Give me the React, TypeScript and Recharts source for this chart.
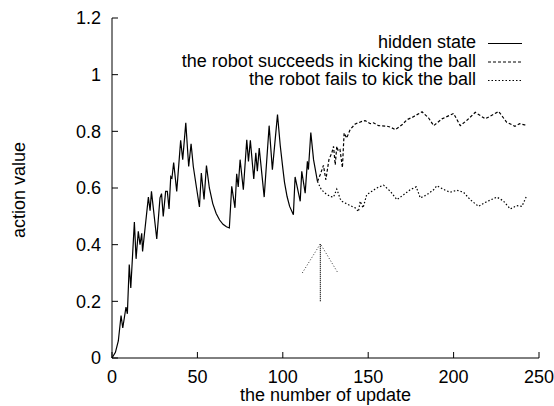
import React from 'react';
import { LineChart, Line, XAxis, YAxis, Legend } from 'recharts';

// hidden state (update index, action value)
const hiddenState = [
  { x: 0, y: 0 }, { x: 2, y: 0.02 }, { x: 3.7, y: 0.06 }, { x: 5.3, y: 0.15 }, { x: 6.3, y: 0.106 },
  { x: 8.2, y: 0.18 }, { x: 9, y: 0.156 }, { x: 10.1, y: 0.33 }, { x: 11, y: 0.247 }, { x: 13.1, y: 0.48 },
  { x: 14.1, y: 0.35 }, { x: 15.4, y: 0.447 }, { x: 16.4, y: 0.4 }, { x: 17.4, y: 0.44 }, { x: 17.9, y: 0.376 },
  { x: 21.3, y: 0.568 }, { x: 22.3, y: 0.52 }, { x: 23.1, y: 0.588 }, { x: 26.2, y: 0.42 }, { x: 28.1, y: 0.565 },
  { x: 29, y: 0.58 }, { x: 30, y: 0.5 }, { x: 31.4, y: 0.588 }, { x: 32.4, y: 0.588 }, { x: 33.4, y: 0.526 },
  { x: 34.4, y: 0.64 }, { x: 35.1, y: 0.635 }, { x: 36.1, y: 0.69 }, { x: 37.9, y: 0.588 }, { x: 40.2, y: 0.768 },
  { x: 41.4, y: 0.7 }, { x: 43.2, y: 0.83 }, { x: 44.9, y: 0.676 }, { x: 46.3, y: 0.756 }, { x: 47.6, y: 0.676 },
  { x: 49.5, y: 0.6 }, { x: 51.2, y: 0.533 }, { x: 52.3, y: 0.653 }, { x: 53.9, y: 0.56 }, { x: 55.3, y: 0.679 },
  { x: 57, y: 0.6 }, { x: 59, y: 0.545 }, { x: 61, y: 0.51 }, { x: 63, y: 0.487 }, { x: 65, y: 0.472 },
  { x: 67, y: 0.463 }, { x: 68.7, y: 0.459 }, { x: 70.1, y: 0.606 }, { x: 72, y: 0.53 }, { x: 73, y: 0.65 },
  { x: 73.9, y: 0.604 }, { x: 75, y: 0.7 }, { x: 76.9, y: 0.594 }, { x: 78.9, y: 0.77 }, { x: 79.9, y: 0.694 },
  { x: 81, y: 0.768 }, { x: 83, y: 0.632 }, { x: 84.2, y: 0.724 }, { x: 85.1, y: 0.659 }, { x: 86.2, y: 0.741 },
  { x: 89.1, y: 0.568 }, { x: 92, y: 0.82 }, { x: 93.9, y: 0.665 }, { x: 96.9, y: 0.859 }, { x: 98.5, y: 0.75 },
  { x: 100, y: 0.67 }, { x: 101, y: 0.62 }, { x: 102.5, y: 0.57 }, { x: 104, y: 0.535 }, { x: 106.2, y: 0.506 },
  { x: 107.2, y: 0.639 }, { x: 110.2, y: 0.553 }, { x: 111.1, y: 0.659 }, { x: 113.1, y: 0.582 }, { x: 114.4, y: 0.694 },
  { x: 115, y: 0.665 }, { x: 116.4, y: 0.796 }, { x: 118, y: 0.7 }, { x: 120.3, y: 0.623 },
];

const kickSucceeds = [
  { x: 120.3, y: 0.623 }, { x: 121.9, y: 0.647 }, { x: 123.8, y: 0.68 }, { x: 125.2, y: 0.629 }, { x: 127, y: 0.7 },
  { x: 128.7, y: 0.724 }, { x: 129.7, y: 0.747 }, { x: 130.7, y: 0.682 }, { x: 131.6, y: 0.747 }, { x: 132.5, y: 0.73 },
  { x: 133.5, y: 0.735 }, { x: 134.9, y: 0.672 }, { x: 135.9, y: 0.794 }, { x: 137.4, y: 0.776 }, { x: 139.4, y: 0.806 },
  { x: 142.4, y: 0.826 }, { x: 146.3, y: 0.835 }, { x: 148.2, y: 0.838 }, { x: 151.2, y: 0.827 }, { x: 153.1, y: 0.83 },
  { x: 156.1, y: 0.82 }, { x: 161, y: 0.818 }, { x: 163, y: 0.815 }, { x: 165.9, y: 0.806 }, { x: 169.8, y: 0.823 },
  { x: 172.7, y: 0.841 }, { x: 176, y: 0.85 }, { x: 181.5, y: 0.869 }, { x: 185.4, y: 0.847 }, { x: 188.3, y: 0.82 },
  { x: 193.2, y: 0.844 }, { x: 200, y: 0.863 }, { x: 203.9, y: 0.82 }, { x: 207.8, y: 0.839 }, { x: 212.7, y: 0.867 },
  { x: 218.5, y: 0.844 }, { x: 226.4, y: 0.87 }, { x: 231.1, y: 0.832 }, { x: 235.9, y: 0.818 }, { x: 238.7, y: 0.827 },
  { x: 241.5, y: 0.823 }, { x: 243, y: 0.823 },
];

const kickFails = [
  { x: 120.3, y: 0.623 }, { x: 122.5, y: 0.595 }, { x: 124.7, y: 0.582 }, { x: 127.7, y: 0.57 }, { x: 129.7, y: 0.568 },
  { x: 131.6, y: 0.596 }, { x: 133.6, y: 0.562 }, { x: 134.6, y: 0.553 }, { x: 136.5, y: 0.547 }, { x: 139.4, y: 0.538 },
  { x: 142.4, y: 0.53 }, { x: 144.3, y: 0.517 }, { x: 145.3, y: 0.553 }, { x: 147, y: 0.53 }, { x: 149.1, y: 0.576 },
  { x: 152, y: 0.588 }, { x: 155, y: 0.6 }, { x: 159, y: 0.61 }, { x: 163, y: 0.588 }, { x: 166.8, y: 0.559 },
  { x: 170.7, y: 0.576 }, { x: 174.6, y: 0.594 }, { x: 178.1, y: 0.604 }, { x: 180.5, y: 0.565 }, { x: 184.3, y: 0.576 },
  { x: 188.3, y: 0.594 }, { x: 190.2, y: 0.608 }, { x: 195.1, y: 0.592 }, { x: 198, y: 0.585 }, { x: 201.9, y: 0.592 },
  { x: 205.8, y: 0.585 }, { x: 209.7, y: 0.559 }, { x: 214.6, y: 0.535 }, { x: 218.5, y: 0.549 }, { x: 225.3, y: 0.568 },
  { x: 229, y: 0.555 }, { x: 233.2, y: 0.526 }, { x: 237, y: 0.538 }, { x: 240, y: 0.535 }, { x: 242.6, y: 0.57 },
];

// the arrow marking where the two cases split
const arrowShaft = [{ x: 122, y: 0.2 }, { x: 122, y: 0.403 }];
const arrowHead = [{ x: 111.4, y: 0.3 }, { x: 122, y: 0.403 }, { x: 132.3, y: 0.3 }];

const xTicks = [0, 50, 100, 150, 200, 250];
const yTicks = [0, 0.2, 0.4, 0.6, 0.8, 1, 1.2];

const seriesNames = [
  'hidden state',
  'the robot succeeds in kicking the ball',
  'the robot fails to kick the ball',
];
const seriesDash = ['', '3 2', '1.5 2'];

const FONT = '"Liberation Sans", Arial, Helvetica, sans-serif';

const LegendBox = () => (
  <svg width={554} height={110} style={{ display: 'block' }}>
    {seriesNames.map((name, i) => (
      <g key={name}>
        <text x={476} y={48 + i * 18.5} textAnchor="end" fontSize={18} fontFamily={FONT} fill="#000">
          {name}
        </text>
        <line x1={488} x2={522} y1={43.5 + i * 18.5} y2={43.5 + i * 18.5} stroke="#000" strokeWidth={1} strokeDasharray={seriesDash[i]} />
      </g>
    ))}
  </svg>
);

export default function App() {
  // pinned to the page corner so chart coordinates equal page pixels
  return (
    <div style={{ position: 'absolute', top: 0, left: 0, width: 554, height: 406 }}>
      <LineChart width={554} height={406} margin={{ top: 18, right: 15, bottom: 0, left: 0 }} style={{ fontFamily: FONT }}>
        <XAxis
          dataKey="x"
          type="number"
          domain={[0, 250]}
          ticks={xTicks}
          height={48}
          tickSize={-6}
          tickMargin={18}
          tick={{ fill: '#000', fontSize: 18 }}
          axisLine={{ stroke: '#000' }}
          tickLine={{ stroke: '#000' }}
          label={{
            content: ({ viewBox }: any) => (
              <text x={viewBox.x + viewBox.width / 2} y={viewBox.y + 43} textAnchor="middle" fontSize={18} fill="#000">
                the number of update
              </text>
            ),
          }}
        />
        <XAxis
          xAxisId="top"
          orientation="top"
          dataKey="x"
          type="number"
          domain={[0, 250]}
          ticks={xTicks}
          height={0}
          tickSize={-6}
          tick={false}
          axisLine={{ stroke: '#000' }}
          tickLine={{ stroke: '#000' }}
        />
        <YAxis
          type="number"
          domain={[0, 1.2]}
          ticks={yTicks}
          width={112}
          tickSize={-6}
          tickMargin={17}
          tick={{ fill: '#000', fontSize: 18 }}
          axisLine={{ stroke: '#000' }}
          tickLine={{ stroke: '#000' }}
          label={{
            content: ({ viewBox }: any) => {
              const cx = viewBox.x + 25;
              const cy = viewBox.y + viewBox.height / 2 + 2;
              return (
                <text x={cx} y={cy} transform={`rotate(-90 ${cx} ${cy})`} textAnchor="middle" fontSize={18} fill="#000">
                  action value
                </text>
              );
            },
          }}
        />
        <YAxis
          yAxisId="right"
          orientation="right"
          type="number"
          domain={[0, 1.2]}
          ticks={yTicks}
          width={0}
          tickSize={-6}
          tick={false}
          axisLine={{ stroke: '#000' }}
          tickLine={{ stroke: '#000' }}
        />
        <Legend
          layout="horizontal"
          verticalAlign="middle"
          align="center"
          wrapperStyle={{ top: 0, left: 0, width: 554, height: 110, pointerEvents: 'none' }}
          content={() => <LegendBox />}
        />
        <Line data={hiddenState} dataKey="y" name={seriesNames[0]} stroke="#000" strokeWidth={1.2} dot={false} isAnimationActive={false} />
        <Line data={kickSucceeds} dataKey="y" name={seriesNames[1]} stroke="#000" strokeWidth={1.2} strokeDasharray={seriesDash[1]} dot={false} isAnimationActive={false} />
        <Line data={kickFails} dataKey="y" name={seriesNames[2]} stroke="#000" strokeWidth={1.2} strokeDasharray={seriesDash[2]} dot={false} isAnimationActive={false} />
        <Line data={arrowShaft} dataKey="y" xAxisId="top" yAxisId="right" stroke="#000" strokeWidth={1.2} strokeDasharray="1 1" dot={false} legendType="none" isAnimationActive={false} />
        <Line data={arrowHead} dataKey="y" xAxisId="top" yAxisId="right" stroke="#000" strokeWidth={0.8} strokeDasharray="1 2" dot={false} legendType="none" isAnimationActive={false} />
      </LineChart>
    </div>
  );
}
